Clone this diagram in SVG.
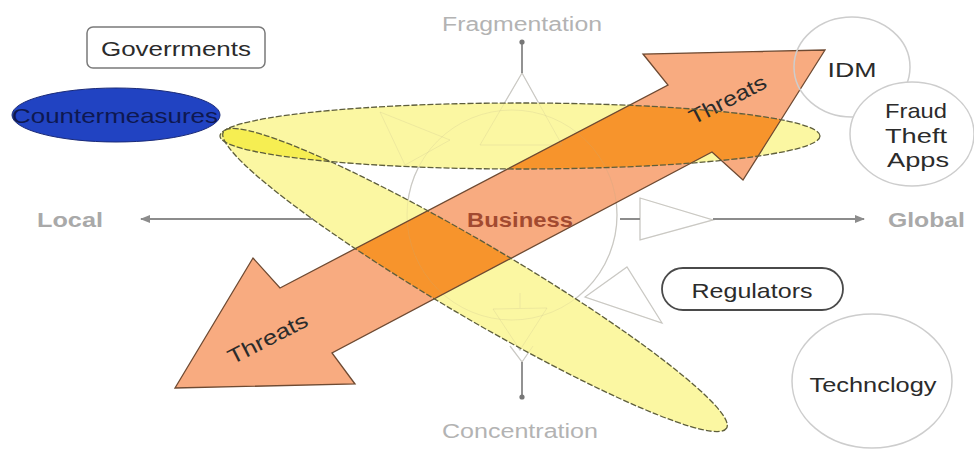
<svg xmlns="http://www.w3.org/2000/svg" xmlns:xlink="http://www.w3.org/1999/xlink" width="974" height="450" viewBox="0 0 974 450">
<style>
  text { font-family: "Liberation Sans", Arial, sans-serif; }
  .faint { fill: none; stroke: #cfcfcf; stroke-width: 1.3; }
  .faintover { fill: none; stroke: #b8ae8a; stroke-width: 1; stroke-opacity: 0.2; }
  .axislbl { fill: #b3b3b3; font-size: 20px; }
  .axisbold { fill: #a9a9a9; font-size: 20px; font-weight: bold; }
  .lbl { fill: #2b2b2b; font-size: 21px; }
  .yel { fill: #fbf7a2; }
  .yedge { fill: none; stroke: #5e5e3c; stroke-width: 1.3; stroke-dasharray: 6 2; }
  .gcircle { fill: #ffffff; stroke: #cdcdcd; stroke-width: 1.5; }
  .axis { stroke: #8c8c8c; stroke-width: 2; fill: none; }
</style>
<defs>
  <marker id="ah" viewBox="0 0 10 10" refX="9" refY="5" markerWidth="5" markerHeight="5" orient="auto">
    <path d="M0,1 L10,5 L0,9 Z" fill="#8c8c8c"/>
  </marker>
  <path id="arrowShape" d="M825,50 L643,54 L668,85 L280,288 L253,258 L175,388 L355,384 L332,353 L712,152 L743,180 Z"/>
  <ellipse id="ellH" cx="520" cy="136" rx="300" ry="33"/>
  <ellipse id="ellD" cx="0" cy="0" rx="292" ry="37" transform="translate(475,280) rotate(30.5)"/>
  <clipPath id="clipH"><use xlink:href="#ellH"/></clipPath>
  <clipPath id="clipD"><ellipse cx="0" cy="0" rx="292" ry="37" transform="translate(475,280) rotate(30.5)"/></clipPath>
  <g id="structure">
    <circle cx="512" cy="215" r="105"/>
    <polygon points="522,73 480,145 562,145"/>
    <polygon points="380,112 450,140 405,165"/>
    <polygon points="640,198 640,240 713,220"/>
    <polygon points="585,297 627,267 662,323"/>
    <polygon points="493,309 547,308 520,350"/>
    <line x1="520" y1="293" x2="520" y2="308"/>
    <polyline points="510,346 522,362 533,346"/>
  </g>
</defs>
<rect width="974" height="450" fill="#ffffff"/>

<!-- faint background structure -->
<g id="background-structure">
  <use xlink:href="#structure" class="faint"/>
</g>

<!-- yellow ellipses -->
<g id="ellipses">
  <use xlink:href="#ellH" class="yel"/>
  <use xlink:href="#ellD" class="yel"/>
  <use xlink:href="#ellD" fill="#f6ee52" clip-path="url(#clipH)"/>
</g>

<!-- threats double arrow -->
<g id="threats-arrow">
  <use xlink:href="#arrowShape" fill="#f8a679" fill-opacity="0.95"/>
  <use xlink:href="#arrowShape" fill="#f7942c" clip-path="url(#clipH)"/>
  <use xlink:href="#arrowShape" fill="#f7942c" clip-path="url(#clipD)"/>
  <use xlink:href="#structure" class="faintover"/>
  <use xlink:href="#arrowShape" fill="none" stroke="#6e4a32" stroke-width="1.3"/>
  <text class="lbl" x="0" y="0" text-anchor="middle" font-size="20" textLength="84" lengthAdjust="spacingAndGlyphs" transform="translate(731,106) rotate(-27)" fill="#2a1c14">Threats</text>
  <text class="lbl" x="0" y="0" text-anchor="middle" font-size="20" textLength="87" lengthAdjust="spacingAndGlyphs" transform="translate(271,345) rotate(-27)" fill="#2a1c14">Threats</text>
</g>

<!-- ellipse outlines -->
<g id="ellipse-edges">
  <use xlink:href="#ellH" class="yedge"/>
  <use xlink:href="#ellD" class="yedge"/>
</g>

<!-- axes / connectors -->
<g id="connectors">
  <line class="axis" x1="313" y1="219" x2="141" y2="219" marker-end="url(#ah)"/>
  <line class="axis" x1="713" y1="219" x2="864" y2="219" marker-end="url(#ah)"/>
  <line class="axis" x1="620" y1="219" x2="640" y2="219"/>
  <line stroke="#777" stroke-width="1.6" x1="522" y1="42" x2="522" y2="73"/>
  <circle cx="522" cy="42" r="2.6" fill="#777"/>
  <line stroke="#777" stroke-width="1.6" x1="522" y1="362" x2="522" y2="397"/>
  <circle cx="522" cy="397" r="2.6" fill="#777"/>
</g>

<!-- axis labels -->
<g id="axis-labels">
  <text class="axislbl" x="522" y="31" text-anchor="middle" textLength="160" lengthAdjust="spacingAndGlyphs">Fragmentation</text>
  <text class="axislbl" x="520" y="438" text-anchor="middle" textLength="156" lengthAdjust="spacingAndGlyphs">Concentration</text>
  <text class="axisbold" x="37" y="227" textLength="66" lengthAdjust="spacingAndGlyphs">Local</text>
  <text class="axisbold" x="888" y="227" textLength="77" lengthAdjust="spacingAndGlyphs">Global</text>
</g>

<g id="business">
  <text x="520" y="227" text-anchor="middle" font-size="20" font-weight="bold" fill="#a24a30" textLength="106" lengthAdjust="spacingAndGlyphs">Business</text>
</g>

<g id="governments">
  <rect x="87" y="27" width="178" height="41" rx="6" fill="#ffffff" stroke="#7a7a7a" stroke-width="1.5"/>
  <text class="lbl" x="176" y="56" text-anchor="middle" textLength="150" lengthAdjust="spacingAndGlyphs">Goverrments</text>
</g>

<g id="countermeasures">
  <ellipse cx="116" cy="115" rx="104" ry="27" fill="#2143c2" stroke="#1a2a78" stroke-width="1"/>
  <text x="115" y="123" text-anchor="middle" font-size="21" fill="#0e1850" textLength="206" lengthAdjust="spacingAndGlyphs">Countermeasures</text>
</g>

<g id="idm">
  <ellipse cx="852" cy="67" rx="58" ry="50" fill="none" stroke="#cdcdcd" stroke-width="1.5"/>
  <text class="lbl" x="852" y="77" text-anchor="middle" textLength="49" lengthAdjust="spacingAndGlyphs">IDM</text>
</g>

<g id="fraud-theft-apps">
  <ellipse class="gcircle" cx="912" cy="134" rx="62" ry="52"/>
  <text class="lbl" x="916" y="118" text-anchor="middle" textLength="62" lengthAdjust="spacingAndGlyphs">Fraud</text>
  <text class="lbl" x="916" y="143" text-anchor="middle" textLength="62" lengthAdjust="spacingAndGlyphs">Theft</text>
  <text class="lbl" x="918" y="167" text-anchor="middle" textLength="62" lengthAdjust="spacingAndGlyphs">Apps</text>
</g>

<g id="regulators">
  <rect x="662" y="268" width="181" height="42" rx="21" fill="#ffffff" stroke="#4a4a4a" stroke-width="1.8"/>
  <text class="lbl" x="752" y="298" text-anchor="middle" textLength="121" lengthAdjust="spacingAndGlyphs">Regulators</text>
</g>

<g id="technology">
  <ellipse class="gcircle" cx="872" cy="381" rx="80" ry="67"/>
  <text class="lbl" x="873" y="392" text-anchor="middle" textLength="127" lengthAdjust="spacingAndGlyphs">Technclogy</text>
</g>
</svg>
